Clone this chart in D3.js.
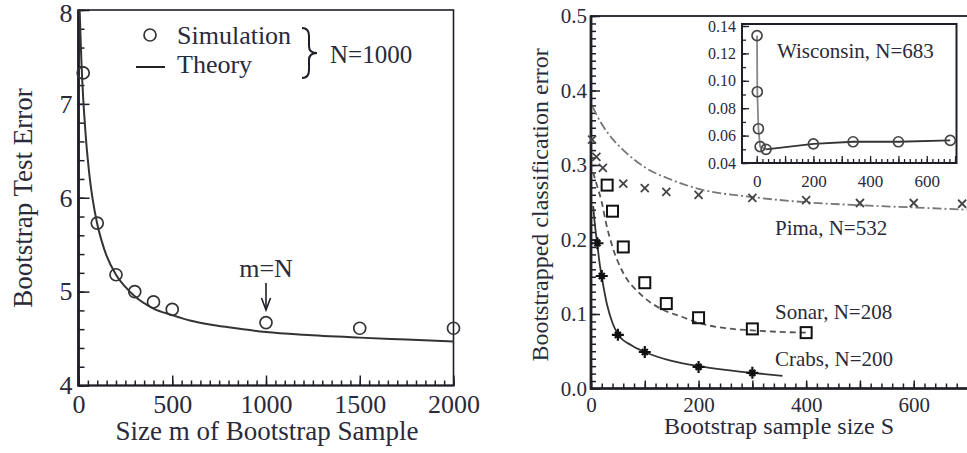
<!DOCTYPE html>
<html><head><meta charset="utf-8">
<script src="https://cdn.jsdelivr.net/npm/d3@7"></script>
<style>
html,body{margin:0;padding:0;background:#fff;}
svg{display:block;font-family:"Liberation Serif","Times New Roman",serif;}
</style></head><body>
<svg id="c" width="967" height="453"></svg>
<script>
// ---------- Left panel data ----------
const simM = [25, 100, 200, 300, 400, 500, 1000, 1500, 2000];
const simErr = [7.33, 5.73, 5.18, 5.00, 4.89, 4.81, 4.67, 4.61, 4.61];
const theoryM = [6, 10, 15, 20, 25, 30, 40, 50, 60, 75, 100, 125, 150, 200, 250, 300, 400, 500, 600, 700, 800, 1000, 1200, 1500, 1750, 2000];
const theoryErr = [8.0, 7.77, 7.48, 7.25, 7.06, 6.90, 6.62, 6.40, 6.21, 5.99, 5.72, 5.53, 5.38, 5.18, 5.05, 4.95, 4.82, 4.75, 4.69, 4.65, 4.62, 4.57, 4.54, 4.51, 4.49, 4.47];
const leftXTicks = [0, 500, 1000, 1500, 2000];
const leftYTicks = [4, 5, 6, 7, 8];

// ---------- Right panel data ----------
const pimaS = [2, 10, 22, 60, 100, 140, 200, 300, 400, 500, 600, 690];
const pimaErr = [0.334, 0.311, 0.296, 0.275, 0.269, 0.264, 0.260, 0.256, 0.253, 0.249, 0.249, 0.248];
const pimaTheoryS = [3, 10, 20, 40, 60, 100, 150, 200, 300, 400, 500, 600, 700];
const pimaTheoryErr = [0.378, 0.368, 0.355, 0.335, 0.320, 0.297, 0.280, 0.268, 0.257, 0.250, 0.246, 0.243, 0.240];

const sonarS = [30, 40, 60, 100, 140, 200, 300, 400];
const sonarErr = [0.273, 0.238, 0.190, 0.142, 0.114, 0.095, 0.080, 0.075];
const sonarTheoryS = [4, 10, 20, 28, 40, 60, 90, 130, 170, 200, 250, 300, 350, 400];
const sonarTheoryErr = [0.290, 0.275, 0.250, 0.222, 0.190, 0.155, 0.128, 0.107, 0.096, 0.088, 0.081, 0.078, 0.076, 0.075];

const crabsS = [12, 20, 50, 100, 200, 300];
const crabsErr = [0.195, 0.151, 0.072, 0.049, 0.029, 0.021];
const crabsTheoryS = [4, 8, 12, 16, 20, 30, 40, 50, 75, 100, 150, 200, 250, 300, 356];
const crabsTheoryErr = [0.245, 0.215, 0.192, 0.168, 0.150, 0.112, 0.088, 0.073, 0.058, 0.049, 0.037, 0.030, 0.025, 0.021, 0.017];

const rightXTicks = [0, 200, 400, 600];
const rightYTicks = [0, 0.1, 0.2, 0.3, 0.4, 0.5];

// ---------- Inset data ----------
const wiscS = [1, 2, 6, 12, 33, 200, 340, 500, 683];
const wiscErr = [0.133, 0.092, 0.065, 0.052, 0.050, 0.054, 0.0555, 0.0555, 0.0565];
const insetXTicks = [0, 200, 400, 600];
const insetYTicks = [0.04, 0.06, 0.08, 0.10, 0.12, 0.14];

const svg = d3.select("#c");
const INK = "#1e1e28";
const LBL = "#2a2a3a";

function styleLabels(g, size) {
  g.select(".domain").remove();
  g.selectAll(".tick line").remove();
  g.selectAll("text").attr("font-family", "Liberation Serif, serif").attr("font-size", size).attr("fill", LBL);
  g.attr("font-family", null).attr("font-size", null);
}
function styleTicks(g, w) {
  g.select(".domain").remove();
  g.selectAll(".tick text").remove();
  g.selectAll(".tick line").attr("stroke", INK).attr("stroke-width", w || 1.5);
}
function range(a, b, step) { const r = []; for (let v = a; v <= b + 1e-9; v += step) r.push(+v.toFixed(6)); return r; }
// inward ticks: axisTop on a bottom edge and axisRight on a left edge point into the plot
function xTicks(g, scale, vals, y, len, w) {
  g.append("g").attr("transform", `translate(0,${y})`)
    .call(d3.axisTop(scale).tickValues(vals).tickSize(len).tickFormat(() => ""))
    .call(s => styleTicks(s, w));
}
function yTicks(g, scale, vals, x, len, w) {
  g.append("g").attr("transform", `translate(${x},0)`)
    .call(d3.axisRight(scale).tickValues(vals).tickSize(len).tickFormat(() => ""))
    .call(s => styleTicks(s, w));
}
function seg(g, x1, y1, x2, y2, w, c) {
  g.append("path").attr("d", `M${x1},${y1}L${x2},${y2}`).attr("fill", "none").attr("stroke", c || INK).attr("stroke-width", w);
}

const xL = d3.scaleLinear().domain([0, 2000]).range([78.5, 453.5]);
const yL = d3.scaleLinear().domain([4, 8]).range([385.5, 10]);
const xR = d3.scaleLinear().domain([0, 700]).range([591, 967.5]);
const yR = d3.scaleLinear().domain([0, 0.5]).range([388.5, 16]);
const xI = d3.scaleLinear().domain([-52, 705]).range([742, 956.5]);
const yI = d3.scaleLinear().domain([0.04, 0.14]).range([163, 26]);

// ================= LEFT PANEL =================
const L = svg.append("g");
xTicks(L, xL, range(0, 2000, 50), 385.5, 5);
xTicks(L, xL, leftXTicks, 385.5, 10);
yTicks(L, yL, range(4, 8, 0.2), 78.5, 6);
yTicks(L, yL, leftYTicks, 78.5, 11);

L.append("g").attr("transform", "translate(0,385.5)")
  .call(d3.axisBottom(xL).tickValues(leftXTicks).tickSize(0).tickPadding(9).tickFormat(d3.format("d")))
  .call(g => styleLabels(g, 26));
L.append("g").attr("transform", "translate(78.5,0)")
  .call(d3.axisLeft(yL).tickValues(leftYTicks).tickSize(0).tickPadding(6).tickFormat(d3.format("d")))
  .call(g => styleLabels(g, 26))
  .call(g => g.selectAll(".tick").filter(d => d === 8).select("text").attr("dy", "0.45em"));

L.append("rect").attr("x", 78.5).attr("y", 10).attr("width", 375).attr("height", 375.5)
  .attr("fill", "none").attr("stroke", INK).attr("stroke-width", 1.6);
seg(L, 78.5, 9.5, 78.5, 386.5, 2.8);
seg(L, 77.5, 385.5, 454.5, 385.5, 2.2);

const theoryLine = d3.line().x((d, i) => xL(theoryM[i])).y((d, i) => yL(theoryErr[i])).curve(d3.curveMonotoneX);
L.append("path").attr("d", theoryLine(theoryM)).attr("fill", "none").attr("stroke", "#333").attr("stroke-width", 2);

L.selectAll("circle.sim").data(simM).join("circle").attr("class", "sim")
  .attr("cx", (d) => xL(d)).attr("cy", (d, i) => yL(simErr[i])).attr("r", 6)
  .attr("fill", "none").attr("stroke", "#333").attr("stroke-width", 1.7);

L.append("circle").attr("cx", 150).attr("cy", 35).attr("r", 6).attr("fill", "none").attr("stroke", "#333").attr("stroke-width", 1.7);
seg(L, 136, 67, 165, 67, 2, "#222");
L.append("text").attr("x", 177).attr("y", 44).attr("font-size", 26).attr("fill", LBL).text("Simulation");
L.append("text").attr("x", 177).attr("y", 73).attr("font-size", 26).attr("fill", LBL).text("Theory");
L.append("path").attr("d", "M302,28 Q309,28 309,36 L309,46 Q309,53 317,53 Q309,53 309,60 L309,70 Q309,78 302,78")
  .attr("fill", "none").attr("stroke", INK).attr("stroke-width", 2);
L.append("text").attr("x", 330).attr("y", 63).attr("font-size", 25).attr("fill", LBL).text("N=1000");

const ax = xL(1000);
L.append("text").attr("x", ax).attr("y", 277).attr("text-anchor", "middle").attr("font-size", 26).attr("fill", LBL).text("m=N");
seg(L, ax, 283, ax, 309, 1.6);
L.append("path").attr("d", `M${ax - 4.5},298 L${ax},310 L${ax + 4.5},298`).attr("fill", "none").attr("stroke", INK).attr("stroke-width", 1.6);

L.append("text").attr("x", 267).attr("y", 440).attr("text-anchor", "middle").attr("font-size", 27).attr("fill", LBL).text("Size m of Bootstrap Sample");
L.append("text").attr("transform", "translate(32,198) rotate(-90)").attr("text-anchor", "middle").attr("font-size", 27).attr("fill", LBL).text("Bootstrap Test Error");

// ================= RIGHT PANEL =================
const R = svg.append("g");
xTicks(R, xR, range(0, 700, 20), 388.5, 5);
xTicks(R, xR, range(0, 700, 100), 388.5, 8);
yTicks(R, yR, range(0, 0.5, 0.01), 591, 5);
yTicks(R, yR, rightYTicks, 591, 9);

R.append("g").attr("transform", "translate(0,388.5)")
  .call(d3.axisBottom(xR).tickValues(rightXTicks).tickSize(0).tickPadding(9).tickFormat(d3.format("d")))
  .call(g => styleLabels(g, 21));
R.append("g").attr("transform", "translate(591,0)")
  .call(d3.axisLeft(yR).tickValues(rightYTicks).tickSize(0).tickPadding(4).tickFormat(d3.format(".1f")))
  .call(g => styleLabels(g, 21));

R.append("rect").attr("x", 591).attr("y", 16).attr("width", 400).attr("height", 372.5)
  .attr("fill", "none").attr("stroke", INK).attr("stroke-width", 1.8);
seg(R, 591, 15.5, 591, 389.5, 2.8);
seg(R, 590, 388.5, 967, 388.5, 2.4);

const mkLine = (xs, ys) => d3.line().x((d, i) => xR(xs[i])).y((d, i) => yR(ys[i])).curve(d3.curveMonotoneX)(xs);
R.append("path").attr("d", mkLine(pimaTheoryS, pimaTheoryErr)).attr("fill", "none")
  .attr("stroke", "#777").attr("stroke-width", 1.8).attr("stroke-dasharray", "9,3,2,3");
R.append("path").attr("d", mkLine(sonarTheoryS, sonarTheoryErr)).attr("fill", "none")
  .attr("stroke", "#555").attr("stroke-width", 1.8).attr("stroke-dasharray", "6,4");
R.append("path").attr("d", mkLine(crabsTheoryS, crabsTheoryErr)).attr("fill", "none")
  .attr("stroke", "#333").attr("stroke-width", 1.8);

R.selectAll("path.pima").data(pimaS).join("path").attr("class", "pima")
  .attr("transform", (d, i) => `translate(${xR(d)},${yR(pimaErr[i])})`)
  .attr("d", "M-4,-4L4,4M-4,4L4,-4").attr("stroke", "#444").attr("stroke-width", 1.8).attr("fill", "none");
R.selectAll("rect.sonar").data(sonarS).join("rect").attr("class", "sonar")
  .attr("x", d => xR(d) - 5.5).attr("y", (d, i) => yR(sonarErr[i]) - 5.5).attr("width", 11).attr("height", 11)
  .attr("fill", "none").attr("stroke", "#111").attr("stroke-width", 2);
R.selectAll("path.crabs").data(crabsS).join("path").attr("class", "crabs")
  .attr("transform", (d, i) => `translate(${xR(d)},${yR(crabsErr[i])})`)
  .attr("d", "M-6,0L6,0M0,-6L0,6M-3,-3L3,3M-3,3L3,-3").attr("stroke", "#111").attr("stroke-width", 2.2).attr("fill", "none");

R.append("text").attr("x", 775).attr("y", 235).attr("font-size", 21).attr("fill", LBL).text("Pima, N=532");
R.append("text").attr("x", 775).attr("y", 319).attr("font-size", 21).attr("fill", LBL).text("Sonar, N=208");
R.append("text").attr("x", 775).attr("y", 366).attr("font-size", 21).attr("fill", LBL).text("Crabs, N=200");
R.append("text").attr("x", 779).attr("y", 434).attr("text-anchor", "middle").attr("font-size", 24).attr("fill", LBL).text("Bootstrap sample size S");
R.append("text").attr("transform", "translate(548,205) rotate(-90)").attr("text-anchor", "middle").attr("font-size", 24).attr("fill", LBL).text("Bootstrapped classification error");

// ================= INSET =================
const I = svg.append("g");
I.append("rect").attr("x", 742).attr("y", 24).attr("width", 214.5).attr("height", 139).attr("fill", "#fff");
xTicks(I, xI, range(0, 700, 20), 163, 4, 1.3);
xTicks(I, xI, range(0, 700, 100), 163, 7, 1.3);
yTicks(I, yI, range(0.04, 0.14, 0.01), 742, 4, 1.3);
yTicks(I, yI, insetYTicks, 742, 7, 1.3);
I.append("rect").attr("x", 742).attr("y", 24).attr("width", 214.5).attr("height", 139).attr("fill", "none")
  .attr("stroke", INK).attr("stroke-width", 2);
I.append("g").attr("transform", "translate(0,163)")
  .call(d3.axisBottom(xI).tickValues(insetXTicks).tickSize(0).tickPadding(12).tickFormat(d3.format("d")))
  .call(g => styleLabels(g, 17));
I.append("g").attr("transform", "translate(742,0)")
  .call(d3.axisLeft(yI).tickValues(insetYTicks).tickSize(0).tickPadding(6).tickFormat(d3.format(".2f")))
  .call(g => styleLabels(g, 16));
const wl = (a, b) => d3.line().x((d, i) => xI(wiscS[a + i])).y((d, i) => yI(wiscErr[a + i]))(wiscS.slice(a, b));
I.append("path").attr("d", wl(0, 5)).attr("fill", "none").attr("stroke", "#888").attr("stroke-width", 1.8);
I.append("path").attr("d", wl(4, 9)).attr("fill", "none").attr("stroke", "#333").attr("stroke-width", 1.8);
I.selectAll("circle.w").data(wiscS).join("circle").attr("class", "w")
  .attr("cx", d => xI(d)).attr("cy", (d, i) => yI(wiscErr[i])).attr("r", 5)
  .attr("fill", "none").attr("stroke", "#444").attr("stroke-width", 1.7);
I.append("text").attr("x", 777).attr("y", 58).attr("font-size", 21).attr("fill", LBL).text("Wisconsin, N=683");
</script>
</body></html>
